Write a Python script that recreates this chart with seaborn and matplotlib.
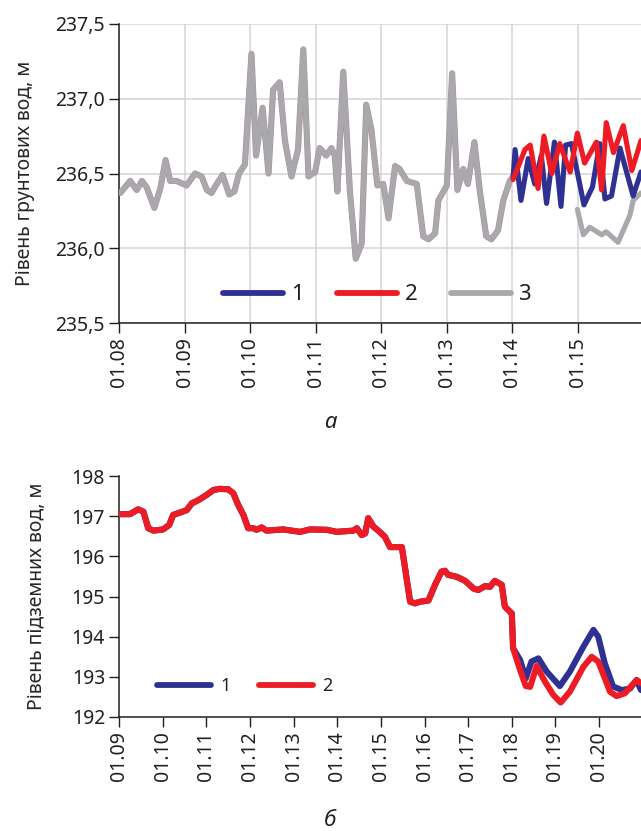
import matplotlib
matplotlib.use("Agg")
import matplotlib.pyplot as plt
import matplotlib.patheffects as pe
from matplotlib.lines import Line2D
import seaborn as sns

# ---------------- data: panel a (groundwater level, m) ----------------
gray1_t = [2008.02, 2008.17, 2008.27, 2008.35, 2008.42, 2008.54, 2008.63, 2008.71, 2008.78, 2008.88,
           2009.03, 2009.16, 2009.26, 2009.34, 2009.41, 2009.49, 2009.58, 2009.68, 2009.76, 2009.83,
           2009.92, 2010.02, 2010.09, 2010.19, 2010.28, 2010.35, 2010.45, 2010.53, 2010.63, 2010.73,
           2010.81, 2010.89, 2010.99, 2011.06, 2011.16, 2011.24, 2011.29, 2011.33, 2011.42, 2011.52,
           2011.61, 2011.70, 2011.77, 2011.85, 2011.94, 2012.03, 2012.11, 2012.21, 2012.28, 2012.39,
           2012.54, 2012.64, 2012.72, 2012.82, 2012.87, 2013.00, 2013.08, 2013.16, 2013.25, 2013.32,
           2013.42, 2013.50, 2013.60, 2013.68, 2013.78, 2013.86, 2013.96, 2014.01]
gray1_v = [236.37, 236.45, 236.39, 236.45, 236.41, 236.27, 236.40, 236.59, 236.45, 236.45,
           236.42, 236.50, 236.48, 236.39, 236.37, 236.43, 236.49, 236.36, 236.38, 236.50,
           236.56, 237.30, 236.62, 236.94, 236.50, 237.06, 237.11, 236.72, 236.48, 236.66,
           237.33, 236.48, 236.51, 236.67, 236.62, 236.67, 236.62, 236.38, 237.18, 236.39,
           235.93, 236.03, 236.96, 236.79, 236.42, 236.43, 236.20, 236.55, 236.53, 236.45,
           236.43, 236.08, 236.06, 236.10, 236.32, 236.42, 237.17, 236.39, 236.53, 236.43,
           236.71, 236.39, 236.08, 236.06, 236.12, 236.32, 236.45, 236.48]

blue_a_t = [2014.01, 2014.04, 2014.13, 2014.24, 2014.34, 2014.44, 2014.52, 2014.64, 2014.74, 2014.81,
            2014.90, 2015.09, 2015.22, 2015.33, 2015.41, 2015.51, 2015.64, 2015.84, 2015.96]
blue_a_v = [236.47, 236.66, 236.32, 236.60, 236.43, 236.62, 236.30, 236.71, 236.28, 236.69,
            236.70, 236.29, 236.41, 236.70, 236.33, 236.35, 236.67, 236.35, 236.51]

red_a_t = [2014.01, 2014.19, 2014.27, 2014.39, 2014.48, 2014.60, 2014.72, 2014.88, 2014.99, 2015.10,
           2015.28, 2015.36, 2015.43, 2015.54, 2015.69, 2015.82, 2015.96]
red_a_v = [236.46, 236.66, 236.69, 236.40, 236.75, 236.50, 236.70, 236.51, 236.77, 236.57,
           236.71, 236.39, 236.84, 236.64, 236.82, 236.52, 236.72]

gray2_t = [2014.99, 2015.08, 2015.18, 2015.36, 2015.43, 2015.61, 2015.71, 2015.79, 2015.84, 2015.96]
gray2_v = [236.26, 236.09, 236.14, 236.09, 236.11, 236.04, 236.14, 236.22, 236.32, 236.37]

a_xticks = list(range(2008, 2016))
a_xlabels = ["01.08", "01.09", "01.10", "01.11", "01.12", "01.13", "01.14", "01.15"]
a_yticks = [235.5, 236.0, 236.5, 237.0, 237.5]
a_ylabels = ["235,5", "236,0", "236,5", "237,0", "237,5"]

# ---------------- data: panel b (underground water level, m) ----------------
common_t = [2009.00, 2009.25, 2009.44, 2009.56, 2009.67, 2009.79, 2010.01, 2010.15, 2010.24, 2010.40,
            2010.55, 2010.67, 2010.82, 2011.01, 2011.16, 2011.31, 2011.50, 2011.62, 2011.73, 2011.85,
            2011.96, 2012.08, 2012.15, 2012.27, 2012.38, 2012.76, 2013.15, 2013.38, 2013.76, 2013.99,
            2014.37, 2014.45, 2014.56, 2014.64, 2014.71, 2014.83, 2014.94, 2015.09, 2015.21, 2015.32,
            2015.48, 2015.55, 2015.67, 2015.78, 2015.90, 2016.09, 2016.24, 2016.39, 2016.47, 2016.54,
            2016.74, 2016.93, 2017.12, 2017.23, 2017.39, 2017.50, 2017.61, 2017.77, 2017.84, 2017.96,
            2018.00, 2018.03]
common_v = [197.05, 197.05, 197.17, 197.11, 196.70, 196.64, 196.67, 196.78, 197.03, 197.09,
            197.15, 197.32, 197.40, 197.53, 197.65, 197.68, 197.67, 197.57, 197.28, 197.03,
            196.70, 196.70, 196.66, 196.72, 196.64, 196.67, 196.61, 196.67, 196.66, 196.61,
            196.64, 196.70, 196.53, 196.57, 196.95, 196.74, 196.64, 196.49, 196.23, 196.23,
            196.23, 195.74, 194.87, 194.83, 194.87, 194.90, 195.29, 195.62, 195.64, 195.54,
            195.49, 195.39, 195.20, 195.16, 195.26, 195.24, 195.39, 195.29, 194.75, 194.62,
            194.58, 193.71]

blue_b_tail_t = [2018.19, 2018.32, 2018.45, 2018.61, 2018.80, 2019.10, 2019.33, 2019.64, 2019.87, 2019.98,
                 2020.13, 2020.32, 2020.52, 2020.71, 2020.86, 2020.96]
blue_b_tail_v = [193.42, 192.96, 193.38, 193.46, 193.13, 192.77, 193.13, 193.75, 194.17, 194.00,
                 193.34, 192.76, 192.67, 192.71, 192.92, 192.67]
red_b_tail_t = [2018.19, 2018.32, 2018.42, 2018.57, 2018.76, 2018.95, 2019.12, 2019.33, 2019.64, 2019.83,
                2019.98, 2020.10, 2020.25, 2020.40, 2020.59, 2020.86, 2020.96]
red_b_tail_v = [193.17, 192.77, 192.75, 193.27, 192.88, 192.55, 192.36, 192.63, 193.25, 193.50,
                193.38, 193.05, 192.63, 192.52, 192.59, 192.92, 192.84]

b_xticks = list(range(2009, 2021))
b_xlabels = ["01.%02d" % (y - 2000) for y in b_xticks]
b_yticks = [192, 193, 194, 195, 196, 197, 198]

BLUE = "#2e3192"
RED = "#ed1c24"
GRAY = "#a7a9ac"

sns.set_style("ticks")
plt.rcParams["font.family"] = ["Noto Sans", "DejaVu Sans"]
plt.rcParams["axes.edgecolor"] = "#231f20"
plt.rcParams["xtick.color"] = "#231f20"
plt.rcParams["ytick.color"] = "#231f20"
plt.rcParams["text.color"] = "#231f20"

fig = plt.figure(figsize=(6.41, 8.31), dpi=100)
W, H = 641.0, 831.0
ax1 = fig.add_axes([119 / W, 1 - 323 / H, 522 / W, 299 / H])
ax2 = fig.add_axes([119 / W, 1 - 717 / H, 522 / W, 241 / H])

lw = 3.7
gray_fx = [pe.Stroke(linewidth=lw + 0.7, foreground="#b58a9a"), pe.Normal()]

# ---- panel a ----
sns.lineplot(x=gray1_t, y=gray1_v, ax=ax1, color=GRAY, lw=lw, path_effects=gray_fx, zorder=3)
sns.lineplot(x=gray2_t, y=gray2_v, ax=ax1, color=GRAY, lw=lw, zorder=3)
sns.lineplot(x=blue_a_t, y=blue_a_v, ax=ax1, color=BLUE, lw=lw, zorder=4)
sns.lineplot(x=red_a_t, y=red_a_v, ax=ax1, color=RED, lw=lw, zorder=5)

ax1.set_xlim(2008, 2015.96)
ax1.set_ylim(235.5, 237.5)
ax1.set_xticks(a_xticks)
ax1.set_xticklabels(a_xlabels, rotation=90)
ax1.set_yticks(a_yticks)
ax1.set_yticklabels(a_ylabels)
ax1.grid(True, color="#d4d4d4", lw=1.1, zorder=0)
ax1.set_axisbelow(True)
ax1.set_ylabel("Рівень грунтових вод, м", fontsize=14, labelpad=15)
ax1.tick_params(axis="both", labelsize=14, length=7, width=1, direction="out", pad=3)
for s in ["top", "right"]:
    ax1.spines[s].set_visible(False)
for s in ["left", "bottom"]:
    ax1.spines[s].set_linewidth(1.1)

h1 = [Line2D([], [], color=c, lw=4.2, solid_capstyle="round") for c in (BLUE, RED, GRAY)]
ax1.legend(h1, ["1", "2", "3"], ncol=3, loc="center", bbox_to_anchor=(0.494, 0.094),
           frameon=False, fontsize=16, handlelength=2.7, handletextpad=0.35, columnspacing=1.5)

# ---- panel b ----
blue_b_t = common_t + blue_b_tail_t
blue_b_v = common_v + blue_b_tail_v
red_b_t = common_t + red_b_tail_t
red_b_v = common_v + red_b_tail_v
sns.lineplot(x=blue_b_t, y=blue_b_v, ax=ax2, color=BLUE, lw=4.4, zorder=3)
sns.lineplot(x=red_b_t, y=red_b_v, ax=ax2, color=RED, lw=4.4, zorder=4)

ax2.set_xlim(2009, 2020.96)
ax2.set_ylim(192, 198)
ax2.set_xticks(b_xticks)
ax2.set_xticklabels(b_xlabels, rotation=90)
ax2.set_yticks(b_yticks)
ax2.set_yticklabels([str(v) for v in b_yticks])
ax2.grid(False)
ax2.set_ylabel("Рівень підземних вод, м", fontsize=14, labelpad=18)
ax2.tick_params(axis="both", labelsize=14, length=7, width=1, direction="out", pad=3)
for s in ["top", "right"]:
    ax2.spines[s].set_visible(False)
for s in ["left", "bottom"]:
    ax2.spines[s].set_linewidth(1.1)

h2 = [Line2D([], [], color=c, lw=4.2, solid_capstyle="round") for c in (BLUE, RED)]
ax2.legend(h2, ["1", "2"], ncol=2, loc="center", bbox_to_anchor=(0.241, 0.129),
           frameon=False, fontsize=13, handlelength=3.0, handletextpad=0.5, columnspacing=1.6)

fig.text(330 / W, 1 - 423 / H, "а", fontsize=16, style="italic", ha="center", va="center")
fig.text(330 / W, 1 - 820 / H, "б", fontsize=16, style="italic", ha="center", va="center")

fig.savefig("out.png", dpi=100)
